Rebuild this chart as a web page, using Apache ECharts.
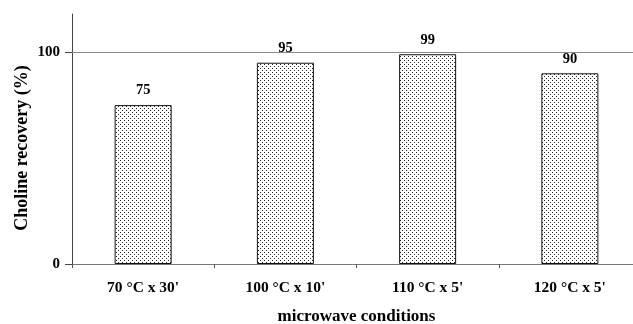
<!DOCTYPE html>
<html><head><meta charset="utf-8">
<script src="https://cdn.jsdelivr.net/npm/echarts@6/dist/echarts.min.js"></script>
<style>html,body{margin:0;padding:0;background:#fff}#c{width:633px;height:324px}</style>
</head><body><div id="c"></div>
<script>
var categories = ["70 °C x 30'", "100 °C x 10'", "110 °C x 5'", "120 °C x 5'"];
var recovery = [75, 95, 99, 90];
var yTicks = [0, 100];

var pat = document.createElement('canvas');
pat.width = 4; pat.height = 4;
var pc = pat.getContext('2d');
pc.fillStyle = '#fff'; pc.fillRect(0,0,4,4);
pc.fillStyle = '#222';
pc.fillRect(0,0,1,1); pc.fillRect(2,2,1,1);

var font = '"Liberation Serif", "Times New Roman", serif';
var chart = echarts.init(document.getElementById('c'), null, {renderer:'canvas'});
chart.setOption({
  animation: false,
  backgroundColor: '#fff',
  grid: {left: 72, right: -8, top: 14, bottom: 60, containLabel: false, outerBoundsMode: 'none'},
  xAxis: {
    type: 'category', data: categories,
    axisLine: {lineStyle: {color: '#777', width: 1}},
    axisTick: {show: true, length: 4, lineStyle: {color: '#555'}},
    axisLabel: {color: '#000', fontFamily: font, fontWeight: 'bold', fontSize: 15.5, margin: 16},
    name: 'microwave conditions', nameLocation: 'middle', nameGap: 44,
    nameTextStyle: {color: '#000', fontFamily: font, fontWeight: 'bold', fontSize: 17}
  },
  yAxis: {
    type: 'value', min: 0, max: 118,
    axisLine: {show: true, lineStyle: {color: '#444', width: 1}},
    axisTick: {show: true, length: 7, customValues: yTicks, lineStyle: {color: '#444'}},
    axisLabel: {color: '#000', fontFamily: font, fontWeight: 'bold', fontSize: 15, margin: 12, customValues: yTicks},
    splitLine: {show: false},
    name: 'Choline recovery (%)', nameLocation: 'middle', nameGap: 41, nameMoveOverlap: false,
    nameTextStyle: {color: '#000', fontFamily: font, fontWeight: 'bold', fontSize: 18, padding: [0, 18, 0, 0]}
  },
  series: [{
    type: 'bar', data: recovery, barWidth: 57,
    itemStyle: {color: {image: pat, repeat: 'repeat'}, borderColor: '#111', borderWidth: 1},
    label: {show: true, position: 'top', distance: 7, color: '#000', fontFamily: font, fontWeight: 'bold', fontSize: 14.5},
    markLine: {
      silent: true, symbol: 'none', label: {show: false},
      lineStyle: {color: '#888', type: 'solid', width: 1},
      data: [{yAxis: yTicks[1]}]
    }
  }]
});
</script></body></html>
